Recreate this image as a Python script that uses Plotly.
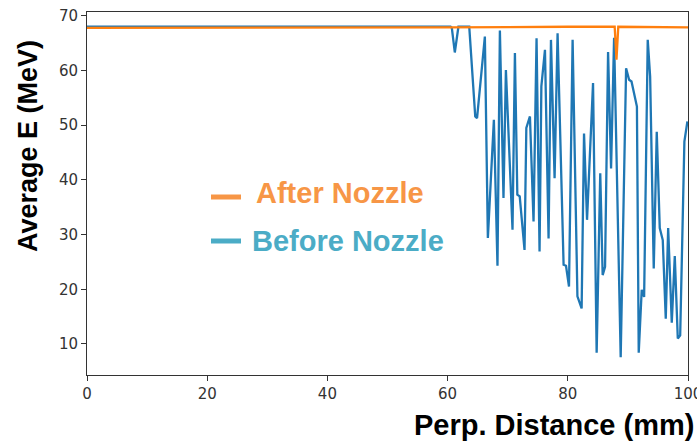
import plotly.graph_objects as go

# Before Nozzle (blue) trace values
blue_x = [0, 60.5, 60.7, 61.2, 61.8, 63.6, 64.6, 64.9, 66.2, 66.7, 67.7, 68.3, 68.7, 69.3,
          69.7, 70.8, 71.2, 71.6, 72.0, 72.8, 73.1, 73.7, 74.3, 74.8, 75.3, 75.6, 76.2,
          76.8, 77.2, 77.8, 78.3, 79.3, 79.7, 80.2, 80.8, 81.6, 82.3, 82.7, 83.2, 84.2,
          84.8, 85.4, 85.8, 86.2, 86.7, 87.2, 87.7, 88.8, 89.7, 90.2, 90.6, 91.2, 91.5,
          91.8, 92.3, 92.7, 93.3, 93.7, 94.3, 94.8, 95.3, 95.8, 96.3, 96.7, 97.3, 97.8,
          98.3, 98.7, 99.4, 99.9]
blue_y = [68.0, 68.0, 67.8, 63.3, 68.0, 68.0, 51.6, 51.3, 66.2, 29.4, 51.0, 24.3, 67.3, 36.7,
          60.1, 30.9, 63.2, 37.3, 37.0, 27.2, 49.5, 51.6, 32.4, 65.9, 26.9, 57.1, 63.8,
          29.3, 65.6, 40.3, 66.8, 24.5, 24.3, 20.5, 65.6, 18.7, 16.5, 48.5, 32.7, 57.7,
          8.4, 41.2, 22.6, 24.1, 63.4, 42.1, 66.0, 7.6, 60.4, 58.3, 58.0, 55.2, 53.4,
          8.4, 19.9, 18.6, 65.6, 58.9, 23.8, 48.8, 31.2, 29.0, 14.6, 31.2, 13.9, 26.1,
          11.0, 11.6, 47.0, 50.7]

# After Nozzle (orange) trace
orange_x = [0, 20, 40, 60, 80, 87.8, 88.1, 88.4, 100]
orange_y = [67.8, 67.8, 67.8, 67.9, 68.0, 68.0, 62.0, 68.0, 67.9]

x_ticks = [0, 20, 40, 60, 80, 100]
y_ticks = [10, 20, 30, 40, 50, 60, 70]

fig = go.Figure()
fig.add_trace(go.Scatter(x=blue_x, y=blue_y, mode="lines",
                         line=dict(color="#1f77b4", width=2.3), showlegend=False))
fig.add_trace(go.Scatter(x=orange_x, y=orange_y, mode="lines",
                         line=dict(color="#ff7f0e", width=2.3), showlegend=False))

axis_common = dict(showgrid=False, zeroline=False, showline=True, linecolor="#333333",
                   linewidth=1, mirror=True, ticks="outside", ticklen=5, tickwidth=1,
                   tickcolor="#333333", ticklabeloverflow="allow", automargin=False,
                   tickfont=dict(family="DejaVu Sans", size=15, color="#333333"))

fig.update_xaxes(range=[0, 100], tickvals=x_ticks, **axis_common)
fig.update_yaxes(range=[4.33, 70.7], tickvals=y_ticks, **axis_common)

W, H = 697, 442
L, R, T, B = 87, 9, 12, 67
pw, ph = W - L - R, H - T - B

def px(x):
    return (x - L) / pw

def py(y):
    return (H - B - y) / ph

annotations = [
    dict(text="<b>Perp. Distance (mm)</b>", x=px(696), y=py(425), xref="paper", yref="paper",
         xanchor="right", yanchor="middle", showarrow=False,
         font=dict(family="Liberation Sans", size=29, color="black")),
    dict(text="<b>Average E (MeV)</b>", x=px(28), y=py(146), xref="paper", yref="paper",
         xanchor="center", yanchor="middle", textangle=-90, showarrow=False,
         font=dict(family="Liberation Sans", size=27, color="black")),
    dict(text="<b>After Nozzle</b>", x=px(254), y=py(193), xref="paper", yref="paper",
         xanchor="left", yanchor="middle", showarrow=False,
         font=dict(family="Liberation Sans", size=29, color="#F79646")),
    dict(text="<b>Before Nozzle</b>", x=px(250), y=py(241), xref="paper", yref="paper",
         xanchor="left", yanchor="middle", showarrow=False,
         font=dict(family="Liberation Sans", size=29, color="#4BACC6")),
]

shapes = [
    dict(type="line", xref="paper", yref="paper", x0=px(211), x1=px(241), y0=py(197), y1=py(197),
         line=dict(color="#F79646", width=5)),
    dict(type="line", xref="paper", yref="paper", x0=px(211), x1=px(241), y0=py(241), y1=py(241),
         line=dict(color="#4BACC6", width=5)),
]

fig.update_layout(width=W, height=H, margin=dict(l=L, r=R, t=T, b=B, autoexpand=False),
                  paper_bgcolor="white", plot_bgcolor="white",
                  annotations=annotations, shapes=shapes, showlegend=False)

fig.write_html("out.html")
